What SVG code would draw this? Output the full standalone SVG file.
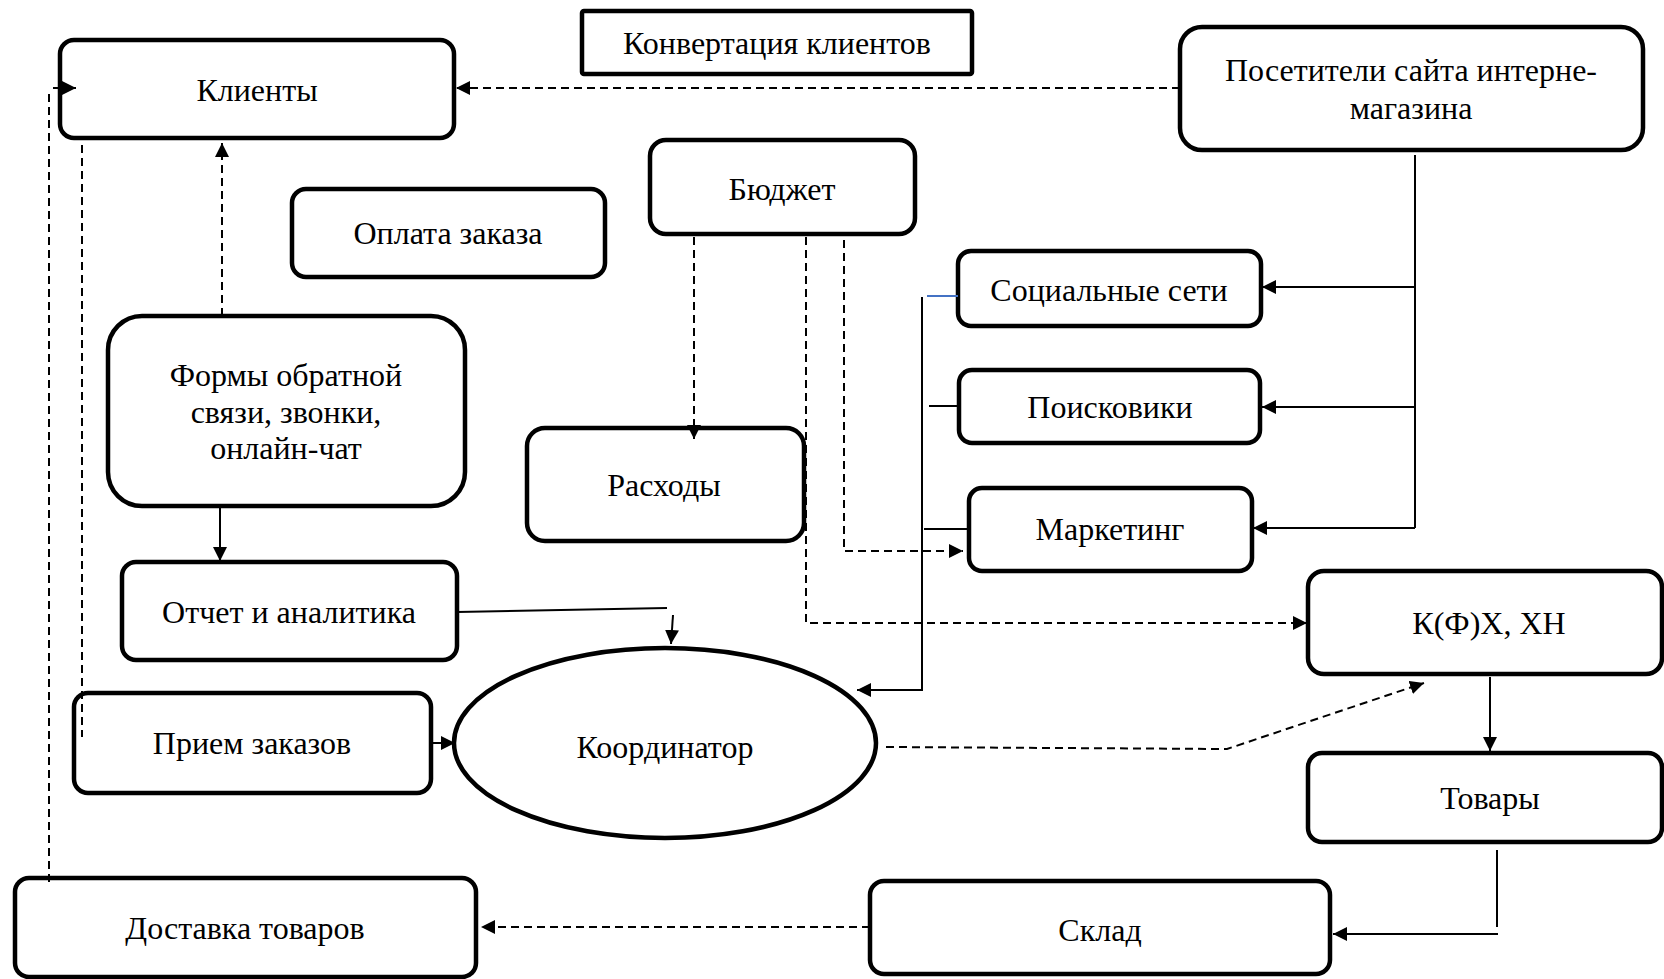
<svg xmlns="http://www.w3.org/2000/svg" width="1664" height="979" viewBox="0 0 1664 979">
<style>
.box{fill:#fff;stroke:#000;stroke-width:4.5}
.t{font-family:"Liberation Serif","Times New Roman",serif;font-size:32px;fill:#000;text-anchor:middle}
.s{fill:none;stroke:#000;stroke-width:2}
.d{fill:none;stroke:#000;stroke-width:2;stroke-dasharray:8 5}
</style>
<defs>
<marker id="a" markerUnits="userSpaceOnUse" markerWidth="16" markerHeight="16" refX="14" refY="7" orient="auto">
<path d="M0,0 L14,7 L0,14 Z" fill="#000"/>
</marker>
</defs>
<rect width="1664" height="979" fill="#fff"/>

<g id="konv"><rect x="582" y="11" width="390" height="63" rx="2" class="box"/><text x="777" y="54" class="t">Конвертация клиентов</text></g>
<g id="klienty"><rect x="60" y="40" width="394" height="98" rx="14" class="box"/><text x="257" y="101" class="t">Клиенты</text></g>
<g id="posetiteli"><rect x="1180" y="27" width="463" height="123" rx="22" class="box"/><text x="1411" y="81" class="t">Посетители сайта интерне-</text><text x="1411" y="119" class="t">магазина</text></g>
<g id="budget"><rect x="650" y="140" width="265" height="94" rx="16" class="box"/><text x="782" y="200" class="t">Бюджет</text></g>
<g id="oplata"><rect x="292" y="189" width="313" height="88" rx="14" class="box"/><text x="448" y="244" class="t">Оплата заказа</text></g>
<g id="socseti"><rect x="958" y="251" width="303" height="75" rx="13" class="box"/><text x="1109" y="301" class="t">Социальные сети</text></g>
<g id="formy"><rect x="108" y="316" width="357" height="190" rx="34" class="box"/><text x="286" y="386" class="t">Формы обратной</text><text x="286" y="423" class="t">связи, звонки,</text><text x="286" y="459" class="t">онлайн-чат</text></g>
<g id="poisk"><rect x="959" y="370" width="301" height="73" rx="13" class="box"/><text x="1110" y="418" class="t">Поисковики</text></g>
<g id="rashody"><rect x="527" y="428" width="277" height="113" rx="18" class="box"/><text x="664" y="496" class="t">Расходы</text></g>
<g id="marketing"><rect x="969" y="488" width="283" height="83" rx="13" class="box"/><text x="1110" y="540" class="t">Маркетинг</text></g>
<g id="otchet"><rect x="122" y="562" width="335" height="98" rx="14" class="box"/><text x="289" y="623" class="t">Отчет и аналитика</text></g>
<g id="kfh"><rect x="1308" y="571" width="354" height="103" rx="16" class="box"/><text x="1489" y="634" class="t">К(Ф)Х, ХН</text></g>
<g id="koord"><ellipse cx="665" cy="743" rx="211" ry="95" class="box"/><text x="665" y="758" class="t">Координатор</text></g>
<g id="priem"><rect x="74" y="693" width="357" height="100" rx="14" class="box"/><text x="252" y="754" class="t">Прием заказов</text></g>
<g id="tovary"><rect x="1308" y="753" width="354" height="89" rx="14" class="box"/><text x="1490" y="809" class="t">Товары</text></g>
<g id="sklad"><rect x="870" y="881" width="460" height="93" rx="14" class="box"/><text x="1100" y="941" class="t">Склад</text></g>
<g id="dostavka"><rect x="15" y="878" width="461" height="99" rx="14" class="box"/><text x="245" y="939" class="t">Доставка товаров</text></g>

<g id="connectors">
<path d="M1180,88 H456" class="d" marker-end="url(#a)"/>
<path d="M222,316 V143" class="d" marker-end="url(#a)"/>
<path d="M220,508 V561" class="s" marker-end="url(#a)"/>
<path d="M457,612 L667,608" class="s"/>
<path d="M673,615 L671,644" class="s" marker-end="url(#a)"/>
<path d="M431,743 H455" class="s" marker-end="url(#a)"/>
<path d="M694,237 V439" class="d" marker-end="url(#a)"/>
<path d="M806,237 V623 H1307" class="d" marker-end="url(#a)"/>
<path d="M844,240 V551 H963" class="d" marker-end="url(#a)"/>
<path d="M922,297 V690 H857" class="s" marker-end="url(#a)"/>
<path d="M927,296 H958" fill="none" stroke="#4472C4" stroke-width="2"/>
<path d="M929,406 H959" class="s"/>
<path d="M924,529 H969" class="s"/>
<path d="M1415,155 V528" class="s"/>
<path d="M1415,287 H1262" class="s" marker-end="url(#a)"/>
<path d="M1415,407 H1262" class="s" marker-end="url(#a)"/>
<path d="M1415,528 H1253" class="s" marker-end="url(#a)"/>
<path d="M1490,677 V751" class="s" marker-end="url(#a)"/>
<path d="M1497,850 V927" class="s"/>
<path d="M1498,934 H1333" class="s" marker-end="url(#a)"/>
<path d="M870,927 H481" class="d" marker-end="url(#a)"/>
<path d="M49,882 V93" class="d"/>
<path d="M53,88 H76" class="s" marker-end="url(#a)"/>
<path d="M82,145 V737" class="d"/>
<path d="M886,747 L1227,749 L1424,683" class="d" marker-end="url(#a)"/>
</g>
</svg>
